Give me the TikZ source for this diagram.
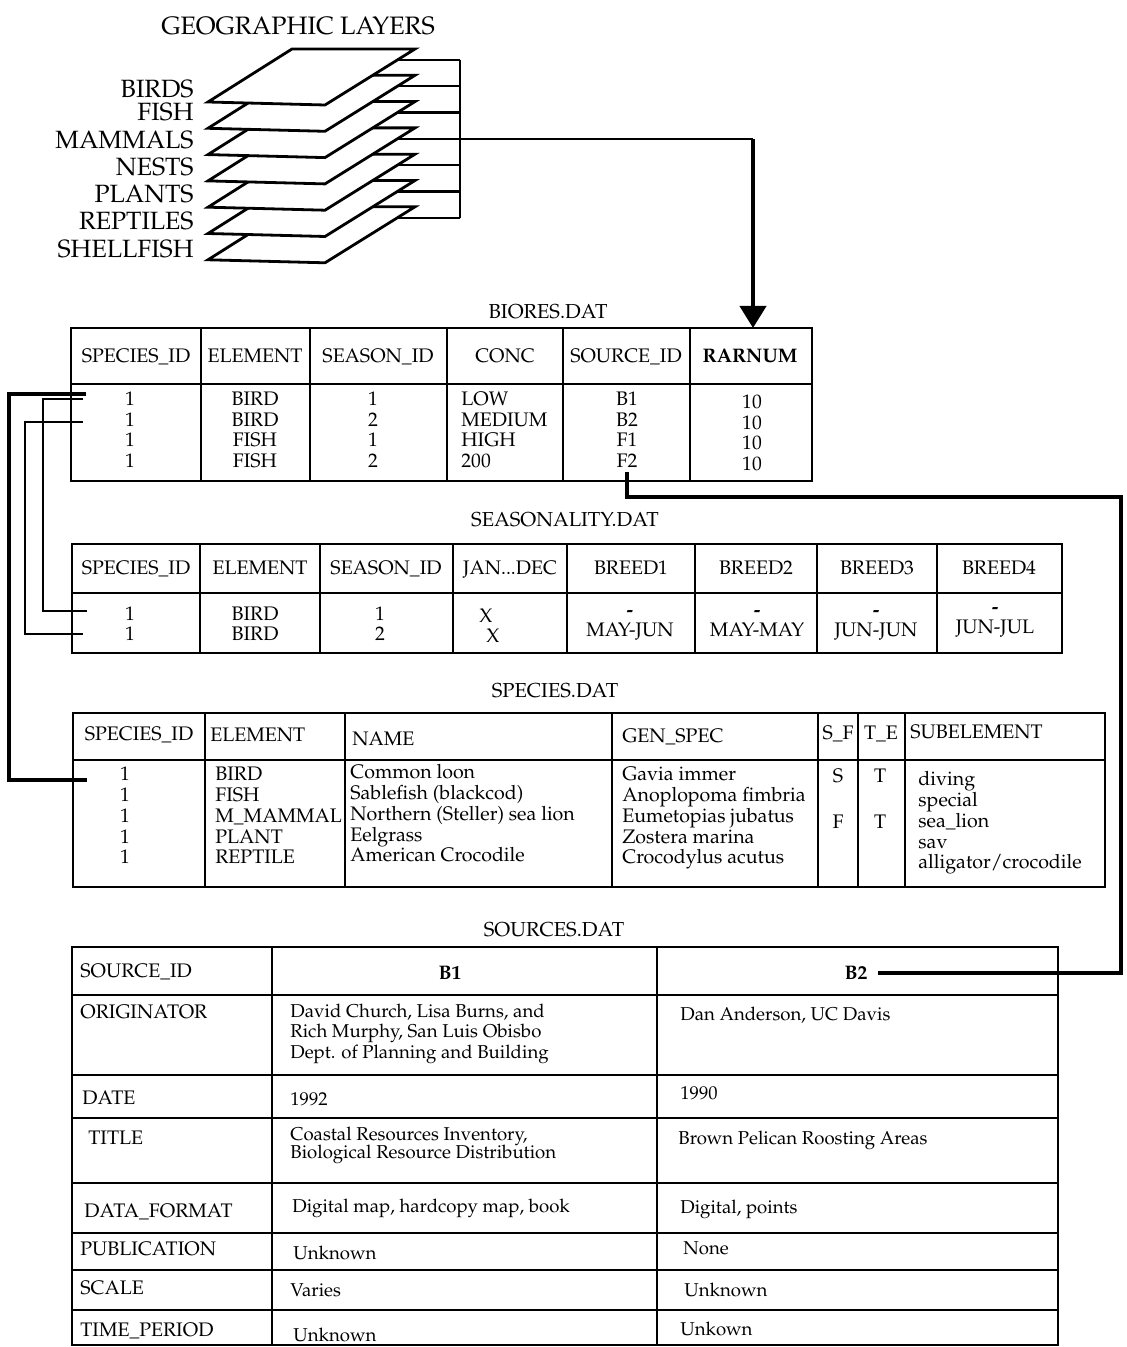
\documentclass[tikz,border=0pt]{standalone}
\usepackage[T1]{fontenc}
\usepackage{mathpazo}
\usetikzlibrary{arrows.meta}

\begin{document}
\begin{tikzpicture}[
  x=0.5pt, y=-0.5pt,
  frame/.style={line width=1.4pt},
  layer/.style={line width=1.4pt, fill=white, line join=miter},
  wire/.style={line width=1.1pt},
  heavy/.style={line width=2pt},
  ttl/.style={font=\fontsize{10.1}{12}\selectfont, inner sep=0pt, anchor=mid},
  hd/.style={font=\fontsize{9.8}{12}\selectfont, inner sep=0pt, anchor=mid},
  lhd/.style={hd, anchor=mid west},
  cell/.style={font=\fontsize{9.8}{12}\selectfont, inner sep=0pt, anchor=mid},
  lcell/.style={cell, anchor=mid west},
  src/.style={font=\fontsize{9.3}{11}\selectfont, inner sep=0pt, anchor=mid west},
]
\useasboundingbox (0,0) rectangle (1126,1347);

% geographic layers
\node[font=\fontsize{12.6}{15}\selectfont, inner sep=0pt] (geotitle) at (298,26) {GEOGRAPHIC LAYERS};
\foreach \i in {6,5,...,0} {
  \pgfmathsetmacro{\t}{49+26.3*\i}
  \draw[layer] (292,\t) -- (415,\t) -- (325,\t+56) -- (208,\t+53) -- cycle;
}
\foreach \n/\y in {BIRDS/93, FISH/116, MAMMALS/144, NESTS/171, PLANTS/198, REPTILES/225, SHELLFISH/253}
  \node[font=\fontsize{12.5}{15}\selectfont, inner sep=0pt, anchor=mid east] (lbl\n) at (194,\y) {\n};
\coordinate (bus) at (460,0);
\foreach \i in {0,...,6} {
  \pgfmathsetmacro{\s}{60+26.3*\i}
  \coordinate (lay\i) at (397,\s);
  \draw[wire] (lay\i) -- (lay\i -| bus);
}
\draw[wire] (lay0 -| bus) -- (lay6 -| bus);

% BIORES.DAT
\node[ttl] (biot) at (548,314) {BIORES.DAT};
\draw[frame] (71,328) rectangle (812,481);
\draw[frame] (71,384) -- (812,384);
\foreach \x in {201,310,447,563,690} \draw[frame] (\x,328) -- (\x,481);
\foreach \x/\t [count=\k] in {136/SPECIES\_ID, 255/ELEMENT, 378/SEASON\_ID, 505/CONC, 626/SOURCE\_ID}
  \node[hd] (bioh\k) at (\x,358) {\t};
\node[hd, font=\fontsize{9.8}{12}\selectfont\bfseries] (rarnum) at (750,358) {RARNUM};
\foreach \y/\e/\s/\c/\r [count=\k] in {401/BIRD/1/LOW/B1, 422/BIRD/2/MEDIUM/B2, 442/FISH/1/HIGH/F1, 463/FISH/2/200/F2} {
  \node[cell] (bioid\k) at (130,\y) {1};
  \node[cell] (bioel\k) at (255,\y) {\e};
  \node[cell] (biose\k) at (373,\y) {\s};
  \node[lcell] (bioco\k) at (461,\y) {\c};
  \node[cell] (biosr\k) at (627,\y) {\r};
  \node[cell] (biorn\k) at (752,\y+3) {10};
}
\coordinate (biotop) at (753,328);
\draw[wire] (lay3) -- (lay3 -| biotop);
\draw[heavy, -{Triangle[length=11pt, width=13pt]}] (lay3 -| biotop) -- (biotop);

% SEASONALITY.DAT
\node[ttl] (seat) at (565,522) {SEASONALITY.DAT};
\draw[frame] (72,544) rectangle (1062,653);
\draw[frame] (72,593) -- (1062,593);
\foreach \x in {200,320,453,567,695,817,937} \draw[frame] (\x,544) -- (\x,653);
\foreach \x/\t [count=\k] in {136/SPECIES\_ID, 260/ELEMENT, 386/SEASON\_ID, 631/BREED1, 756/BREED2, 877/BREED3, 999/BREED4}
  \node[hd] (seah\k) at (\x,570) {\t};
\node[hd] (seamon) at (510,570) {JAN.{}.{}.DEC};
\foreach \y/\s [count=\k] in {616/1, 636/2} {
  \node[cell] (seaid\k) at (130,\y) {1};
  \node[cell] (seael\k) at (255,\y) {BIRD};
  \node[cell] (sease\k) at (380,\y) {\s};
}
\node[cell] (seax1) at (486,618) {X};
\node[cell] (seax2) at (493,638) {X};
\foreach \x/\y/\m [count=\k] in {630/632/MAY-JUN, 757/632/MAY-MAY, 876/632/JUN-JUN, 995/629/JUN-JUL} {
  \node[cell, font=\fontsize{9.8}{12}\selectfont\bfseries] (seadash\k) at (\x,\y-20) {-};
  \node[cell] (seabr\k) at (\x,\y) {\m};
}

% SPECIES.DAT
\node[ttl] (spet) at (555,693) {SPECIES.DAT};
\draw[frame] (73,713) rectangle (1105,887);
\draw[frame] (73,760) -- (1105,760);
\foreach \x in {205,345,612,818,858,905} \draw[frame] (\x,713) -- (\x,887);
\node[hd] (speh1) at (139,736) {SPECIES\_ID};
\node[lhd] (speh2) at (210,737) {ELEMENT};
\node[lhd] (speh3) at (352,741) {NAME};
\node[lhd] (speh4) at (622,738) {GEN\_SPEC};
\node[hd] (speh5) at (838,735) {S\_F};
\node[hd] (speh6) at (881,735) {T\_E};
\node[lhd] (speh7) at (910,734) {SUBELEMENT};
\foreach \y/\e/\n/\g/\b [count=\k] in {776/BIRD/Common loon/Gavia immer/diving,
    797/FISH/Sablefish (blackcod)/Anoplopoma fimbria/special,
    818/M\_MAMMAL/Northern (Steller) sea lion/Eumetopias jubatus/sea\_lion,
    839/PLANT/Eelgrass/Zostera marina/sav,
    859/REPTILE/American Crocodile/Crocodylus acutus/alligator{/}crocodile} {
  \node[cell] (speid\k) at (125,\y) {1};
  \node[lcell] (speel\k) at (215,\y) {\e};
  \node[lcell] (spenm\k) at (350,\y-2) {\n};
  \node[lcell] (spegs\k) at (622,\y) {\g};
  \node[lcell] (spesb\k) at (918,\y+5) {\b};
}
\node[cell] (spesf1) at (838,778) {S};
\node[cell] (spesf2) at (838,824) {F};
\node[cell] (spete1) at (880,778) {T};
\node[cell] (spete2) at (880,824) {T};

% SOURCES.DAT
\node[ttl] (srct) at (554,932) {SOURCES.DAT};
\draw[frame] (72,947) rectangle (1058,1345);
\foreach \y in {995,1075,1118,1183,1233,1270,1310} \draw[frame] (72,\y) -- (1058,\y);
\foreach \x in {272,657} \draw[frame] (\x,947) -- (\x,1345);
\foreach \x/\y/\t [count=\k] in {80/973/SOURCE\_ID, 80/1014/ORIGINATOR, 82/1100/DATE, 88/1140/TITLE,
    84/1213/DATA\_FORMAT, 80/1251/PUBLICATION, 80/1290/SCALE, 80/1332/TIME\_PERIOD}
  \node[lhd] (srch\k) at (\x,\y) {\t};
\node[hd, font=\fontsize{9.8}{12}\selectfont\bfseries] (b1) at (450,975) {B1};
\node[hd, font=\fontsize{9.8}{12}\selectfont\bfseries] (b2) at (856,975) {B2};
\node[src] (orig1a) at (290,1013) {David Church, Lisa Burns, and};
\node[src] (orig1b) at (290,1033) {Rich Murphy, San Luis Obisbo};
\node[src] (orig1c) at (290,1054) {Dept. of Planning and Building};
\node[src] (orig2) at (680,1016) {Dan Anderson, UC Davis};
\node[src] (date1) at (290,1101) {1992};
\node[src] (date2) at (680,1095) {1990};
\node[src] (title1a) at (290,1136) {Coastal Resources Inventory,};
\node[src] (title1b) at (290,1154) {Biological Resource Distribution};
\node[src] (title2) at (678,1140) {Brown Pelican Roosting Areas};
\node[src] (fmt1) at (292,1208) {Digital map, hardcopy map, book};
\node[src] (fmt2) at (680,1209) {Digital, points};
\node[src] (pub1) at (293,1255) {Unknown};
\node[src] (pub2) at (683,1250) {None};
\node[src] (scl1) at (290,1292) {Varies};
\node[src] (scl2) at (684,1292) {Unknown};
\node[src] (tp1) at (293,1337) {Unknown};
\node[src] (tp2) at (680,1331) {Unkown};

% links between the tables
\coordinate (lxa) at (9,0);
\coordinate (lxb) at (43,0);
\coordinate (lxc) at (25,0);
\coordinate (bioA) at (86,394);
\coordinate (bioB) at (83,399);
\coordinate (bioC) at (83,422);
\coordinate (seaA) at (87,611);
\coordinate (seaB) at (83,634);
\coordinate (speA) at (87,780);
\draw[heavy] (bioA) -- (bioA -| lxa) |- (speA);
\draw[wire] (bioB) -- (bioB -| lxb) |- (seaA);
\draw[wire] (bioC) -- (bioC -| lxc) |- (seaB);
\coordinate (rbus) at (1121,497);
\draw[heavy] ([yshift=-2pt]biosr4.south) |- (rbus) |- ([xshift=5pt]b2.east);
\end{tikzpicture}
\end{document}
